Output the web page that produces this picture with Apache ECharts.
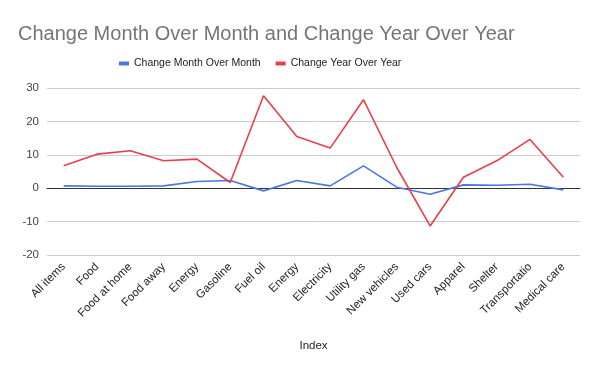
<!DOCTYPE html>
<html>
<head>
<meta charset="utf-8">
<script src="https://cdn.jsdelivr.net/npm/echarts@6/dist/echarts.min.js"></script>
<style>html,body{margin:0;padding:0;background:#fff}#c{width:600px;height:371px}</style>
</head>
<body>
<div id="c"></div>
<script>
var categories = ["All items","Food","Food at home","Food away","Energy","Gasoline","Fuel oil","Energy","Electricity","Utility gas","New vehicles","Used cars","Apparel","Shelter","Transportatio","Medical care"];
var momValues = [0.7, 0.6, 0.6, 0.7, 2.0, 2.3, -0.8, 2.3, 0.7, 6.7, 0.3, -1.8, 1.0, 0.9, 1.2, -0.5];
var yoyValues = [6.7, 10.2, 11.2, 8.2, 8.7, 1.7, 27.7, 15.5, 12.0, 26.5, 6.2, -11.3, 3.3, 8.2, 14.6, 3.3];
var yTicks = [-20, 30, 10];

var chart = echarts.init(document.getElementById('c'));
chart.setOption({
  animation: false,
  backgroundColor: '#ffffff',
  title: {
    text: 'Change Month Over Month and Change Year Over Year',
    left: 13, top: 19,
    textStyle: {fontFamily: 'Liberation Sans, Arial', fontSize: 20, fontWeight: 'normal', color: '#757575'}
  },
  legend: {
    top: 53, left: 114,
    icon: 'rect', itemWidth: 10, itemHeight: 4, itemGap: 15, itemTextGap: 7,
    textStyle: {fontFamily: 'Liberation Sans, Arial', fontSize: 10.5, color: '#222'},
    data: ['Change Month Over Month', 'Change Year Over Year']
  },
  grid: {left: 47, right: 20, top: 88, bottom: 116, containLabel: false},
  xAxis: {
    type: 'category', data: categories, boundaryGap: true,
    name: 'Index', nameLocation: 'middle', nameGap: 85,
    nameTextStyle: {fontFamily: 'Liberation Sans, Arial', fontSize: 11.5, color: '#222'},
    axisLine: {onZero: true, lineStyle: {color: '#333', width: 1}},
    axisTick: {show: false},
    axisLabel: {rotate: 45, interval: 0, margin: 10, fontFamily: 'Liberation Sans, Arial', fontSize: 11.5, color: '#222'}
  },
  yAxis: {
    type: 'value', min: yTicks[0], max: yTicks[1], interval: yTicks[2],
    axisLine: {show: false}, axisTick: {show: false},
    axisLabel: {margin: 8, fontFamily: 'Liberation Sans, Arial', fontSize: 11.5, color: '#444'},
    splitLine: {lineStyle: {color: '#cccccc', width: 1}}
  },
  series: [
    {name: 'Change Month Over Month', type: 'line', data: momValues, symbol: 'none',
     lineStyle: {color: '#4a76e2', width: 1.6}, itemStyle: {color: '#4a76e2'}},
    {name: 'Change Year Over Year', type: 'line', data: yoyValues, symbol: 'none',
     lineStyle: {color: '#e8404a', width: 1.6}, itemStyle: {color: '#e8404a'}}
  ]
});
</script>
</body>
</html>
